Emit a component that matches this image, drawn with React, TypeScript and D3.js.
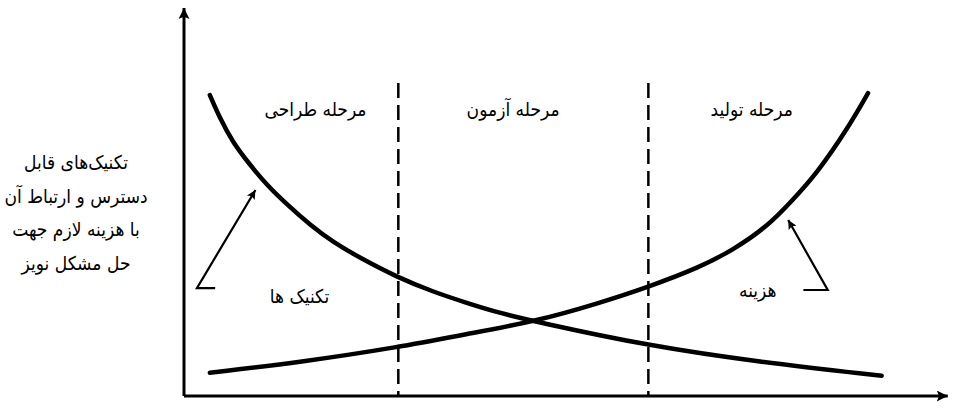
import React from 'react';
import * as d3 from 'd3';

// curve points (x = project progress, y = relative level)
const techX = [3.4, 4.7, 6.4, 8.7, 10.9, 13.6, 16.6, 19.6, 23.2, 28.0, 32.8, 37.2, 41.6, 46.4, 61.1, 75.8, 91.8];
const techY = [79.2, 73.2, 66.8, 60.8, 55.5, 50.3, 45.0, 40.5, 36.3, 31.3, 27.4, 24.5, 21.8, 19.5, 13.2, 8.9, 5.3];
const costX = [3.4, 15.3, 28.4, 37.2, 46.4, 54.7, 61.1, 67.9, 72.2, 76.7, 80.1, 83.3, 87.2, 90.0];
const costY = [6.1, 8.9, 12.9, 16.3, 19.7, 24.5, 28.7, 33.9, 38.4, 44.5, 51.6, 58.7, 70.0, 79.7];

// phase boundaries and names
const boundaries = [28.2, 61.1];
const phaseNames = ['مرحله طراحی', 'مرحله آزمون', 'مرحله تولید'];
const phaseLabelX = [17.3, 43.3, 74.7];

const yTitle = ['تکنیک‌های قابل', 'دسترس و ارتباط آن', 'با هزینه لازم جهت', 'حل مشکل نویز'];

const W = 969;
const H = 409;

function Label({ x, y, children }: { x: number; y: number; children: React.ReactNode }) {
  // DejaVu is wider than the original face, so squeeze it a bit
  return (
    <text
      transform={`translate(${x},${y}) scale(0.9,1)`}
      textAnchor="middle"
      direction="rtl"
      fontFamily="'DejaVu Sans', sans-serif"
      fontSize={19}
    >
      {children}
    </text>
  );
}

export default function App() {
  const x = d3.scaleLinear().domain([0, 100]).range([184, 944]);
  const y = d3.scaleLinear().domain([0, 100]).range([396, 16]);

  // basis spline smooths out the reading noise of the hand-drawn curves
  const line = d3
    .line<[number, number]>()
    .x((d) => x(d[0]))
    .y((d) => y(d[1]))
    .curve(d3.curveBasis);

  const tech = techX.map((v, i) => [v, techY[i]] as [number, number]);
  const cost = costX.map((v, i) => [v, costY[i]] as [number, number]);

  return (
    <svg
      width={W}
      height={H}
      style={{ position: 'absolute', left: 0, top: 0, background: '#fff' }}
    >
      <defs>
        <marker id="small" viewBox="0 0 10 10" refX="10" refY="5" markerWidth="16" markerHeight="9" orient="auto" markerUnits="userSpaceOnUse">
          <path d="M0,0 L10,5 L0,10 L2,5 z" fill="#000" />
        </marker>
        <marker id="axis" viewBox="0 0 10 10" refX="10" refY="5" markerWidth="20" markerHeight="11" orient="auto" markerUnits="userSpaceOnUse">
          <path d="M0,0 L10,5 L0,10 L2,5 z" fill="#000" />
        </marker>
      </defs>

      {/* axes */}
      <line x1={x(0)} y1={y(0)} x2={x(0)} y2={y(102.1)} stroke="#000" strokeWidth={3} markerEnd="url(#axis)" />
      <line x1={x(0)} y1={y(0)} x2={x(100.5)} y2={y(0)} stroke="#000" strokeWidth={3} markerEnd="url(#axis)" />

      {/* phase boundaries */}
      {boundaries.map((b) => (
        <line key={b} x1={x(b)} x2={x(b)} y1={y(82.4)} y2={y(0)} stroke="#000" strokeWidth={2.5} strokeDasharray="15 7" />
      ))}

      {/* curves */}
      <path d={line(tech) || ''} fill="none" stroke="#000" strokeWidth={4.5} strokeLinecap="round" />
      <path d={line(cost) || ''} fill="none" stroke="#000" strokeWidth={4.5} strokeLinecap="round" />

      {/* pointer arrows */}
      <polyline
        points={`${x(4.1)},${y(28.4)} ${x(1.7)},${y(28.4)} ${x(9.4)},${y(54.2)}`}
        fill="none" stroke="#000" strokeWidth={2.2} markerEnd="url(#small)"
      />
      <polyline
        points={`${x(81.5)},${y(27.9)} ${x(84.7)},${y(27.9)} ${x(79.5)},${y(46.3)}`}
        fill="none" stroke="#000" strokeWidth={2.2} markerEnd="url(#small)"
      />

      {/* phase labels */}
      {phaseNames.map((n, i) => (
        <Label key={n} x={x(phaseLabelX[i])} y={y(73.6)}>
          {n}
        </Label>
      ))}

      <Label x={x(15.2)} y={y(24.5)}>تکنیک ها</Label>
      <Label x={x(75.5)} y={y(26)}>هزینه</Label>

      {yTitle.map((t, i) => (
        <Label key={t} x={76} y={169 + i * 33.5}>
          {t}
        </Label>
      ))}
    </svg>
  );
}
